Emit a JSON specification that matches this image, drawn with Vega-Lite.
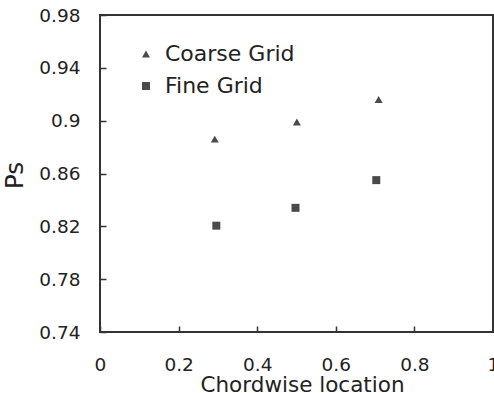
{
  "$schema": "https://vega.github.io/schema/vega-lite/v6.json",
  "width": 393,
  "height": 317,
  "autosize": {"type": "none"},
  "padding": {"left": 100, "top": 15, "right": 1, "bottom": 61},
  "background": "white",
  "config": {
    "font": "DejaVu Sans",
    "view": {"stroke": "#333", "strokeWidth": 2}
  },
  "data": {
    "values": [
      {"x": 0.292, "ps": 0.886, "series": "Coarse Grid"},
      {"x": 0.501, "ps": 0.899, "series": "Coarse Grid"},
      {"x": 0.709, "ps": 0.916, "series": "Coarse Grid"},
      {"x": 0.296, "ps": 0.8205, "series": "Fine Grid"},
      {"x": 0.4975, "ps": 0.834, "series": "Fine Grid"},
      {"x": 0.703, "ps": 0.855, "series": "Fine Grid"}
    ]
  },
  "mark": {"type": "point", "filled": true, "opacity": 1, "color": "#4a4a4a", "size": 64},
  "encoding": {
    "x": {
      "field": "x",
      "type": "quantitative",
      "scale": {"domain": [0, 1], "nice": false, "zero": false},
      "axis": {
        "title": "Chordwise location",
        "values": [0, 0.2, 0.4, 0.6, 0.8, 1],
        "format": "~g",
        "grid": false,
        "domain": false,
        "tickSize": -6,
        "tickColor": "#333",
        "tickWidth": 1.5,
        "labelPadding": 29,
        "labelFlush": false,
        "labelOverlap": false,
        "labelFont": "DejaVu Sans",
        "labelFontSize": 18.5,
        "labelColor": "#222",
        "titleFont": "DejaVu Sans",
        "titleFontSize": 21.5,
        "titleFontWeight": "normal",
        "titleColor": "#222",
        "titleBaseline": "alphabetic",
        "titleY": 59,
        "titleX": 202
      }
    },
    "y": {
      "field": "ps",
      "type": "quantitative",
      "scale": {"domain": [0.74, 0.98], "nice": false, "zero": false},
      "axis": {
        "title": "Ps",
        "values": [0.74, 0.78, 0.82, 0.86, 0.9, 0.94, 0.98],
        "format": "~g",
        "grid": false,
        "domain": false,
        "tickSize": -6,
        "tickColor": "#333",
        "tickWidth": 1.5,
        "labelPadding": 26,
        "labelFlush": false,
        "labelOverlap": false,
        "labelFont": "DejaVu Sans",
        "labelFontSize": 18.5,
        "labelColor": "#222",
        "titleFont": "DejaVu Sans",
        "titleFontSize": 25,
        "titleFontWeight": "normal",
        "titleColor": "#222",
        "titleX": -73,
        "titleY": 160
      }
    },
    "shape": {
      "field": "series",
      "type": "nominal",
      "scale": {"domain": ["Coarse Grid", "Fine Grid"], "range": ["triangle-up", "square"]},
      "legend": {
        "title": null,
        "orient": "none",
        "legendX": 35,
        "legendY": 28,
        "padding": 0,
        "symbolSize": 64,
        "symbolFillColor": "#4a4a4a",
        "symbolStrokeWidth": 0,
        "labelFont": "DejaVu Sans",
        "labelFontSize": 22,
        "labelColor": "#222",
        "labelOffset": 8,
        "rowPadding": 10
      }
    }
  }
}
